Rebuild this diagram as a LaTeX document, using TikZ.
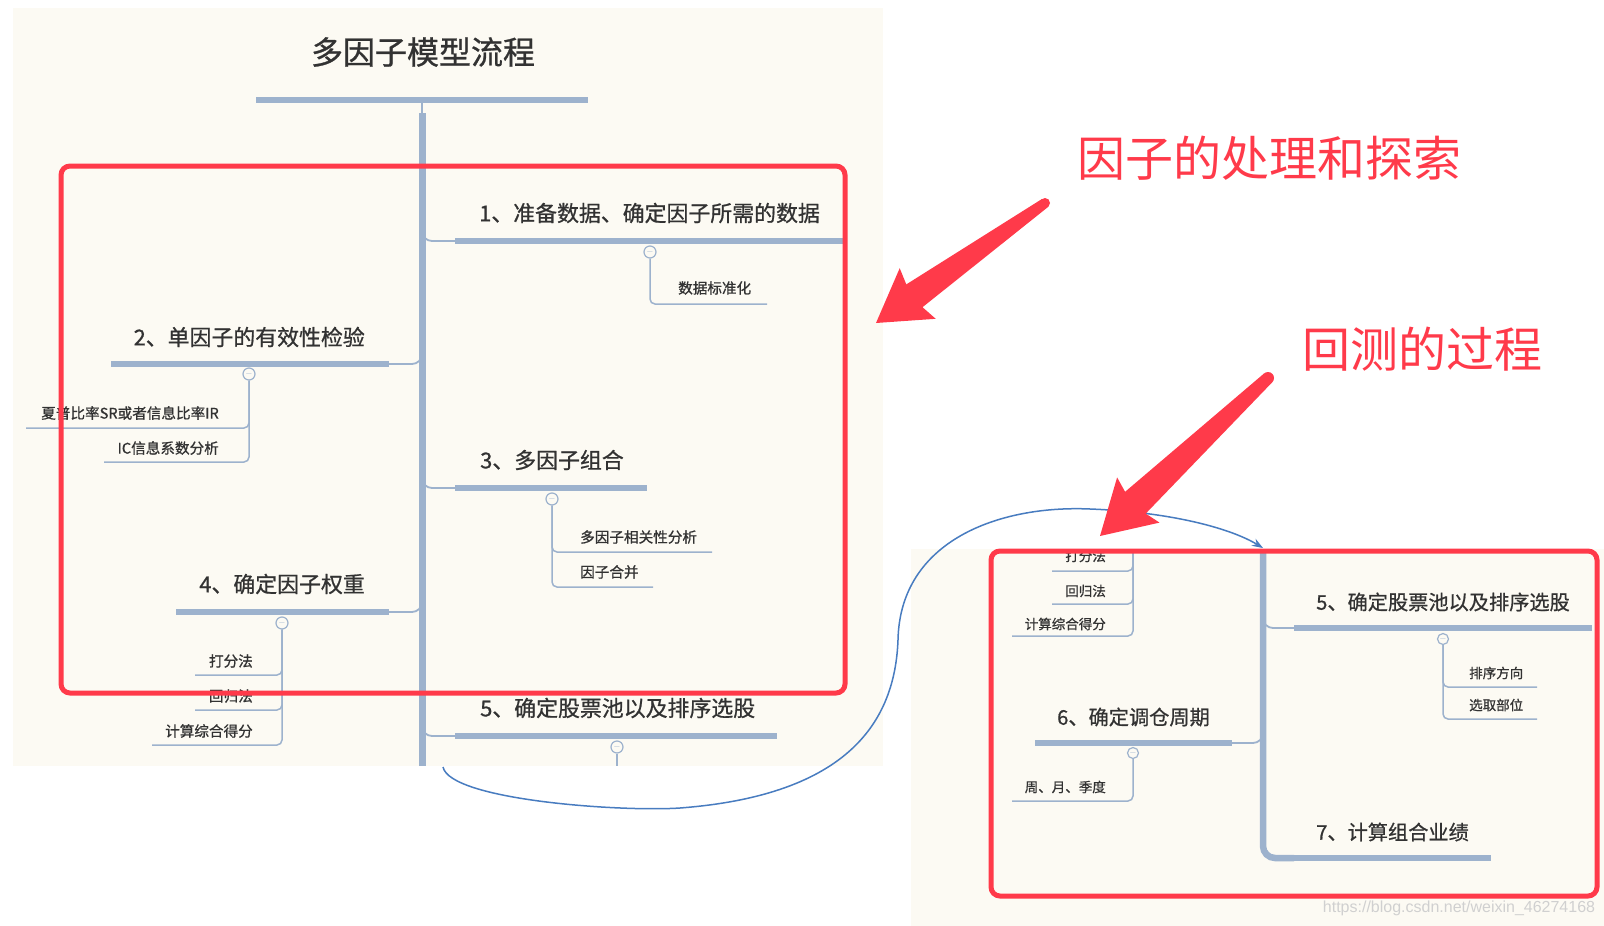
\documentclass[tikz,border=0pt]{standalone}
\usepackage{fontspec}
\usepackage{xcolor}
\usepackage{tikz}
\usetikzlibrary{arrows.meta}
\newfontfamily\cjk{Noto Sans CJK SC}
\newfontfamily\cjkmap[FakeBold=0.8]{Noto Sans CJK SC}
\newfontfamily\wmfont{Liberation Sans}
\definecolor{paper}{RGB}{252,250,243}
\definecolor{branch}{RGB}{157,178,205}
\definecolor{inktext}{RGB}{50,50,50}
\definecolor{hotred}{RGB}{255,58,74}
\definecolor{loopblue}{RGB}{72,124,192}
\definecolor{wmgray}{RGB}{208,208,208}
\newcommand{\fs}[1]{\fontsize{#1}{#1}\selectfont}

\begin{document}
\begin{tikzpicture}[x=1pt,y=-1pt,
    trunk/.style={draw=branch,line width=7pt},
    bar/.style={draw=branch,line width=5.5pt},
    conn/.style={draw=branch,line width=1.8pt,rounded corners=10pt},
    subline/.style={draw=branch,line width=1.5pt,rounded corners=5pt},
    fold/.style={circle,draw=branch,fill=paper,line width=1.2pt,minimum size=12pt,inner sep=0pt,text=branch,font=\fs{9}},
    topic/.style={inner sep=0pt,text=inktext,font=\cjkmap\fs{21.9}},
    subtopic/.style={inner sep=0pt,text=inktext,font=\cjkmap\fs{14.6}},
    rtopic/.style={inner sep=0pt,text=inktext,font=\cjkmap\fs{20.2}},
    rsubtopic/.style={inner sep=0pt,text=inktext,font=\cjkmap\fs{13.5}},
    redbox/.style={draw=hotred,line width=5pt,rounded corners=9pt},
    tag/.style={inner sep=0pt,text=hotred,font=\cjk\fs{48}}]

    \useasboundingbox[fill=white] (0,0) rectangle (1604,926);

    % draw panels
    \fill[paper] (13,8) rectangle (883,766);
    \fill[paper] (911,549) rectangle (1604,926);

    % left map: title and trunk
    \node[inner sep=0pt,text=inktext,font=\cjkmap\fs{32}] (title) at (423,52) {多因子模型流程};
    \draw[draw=branch,line width=6.5pt] (256,100) -- (588,100);
    \draw[conn] (422,100) -- (422,114);
    \draw[trunk] (422,113) -- (422,766);

    % branch 1
    \draw[conn] (422,225) |- (455,241);
    \draw[bar] (455,241) -- (847,241);
    \node[topic,anchor=west] (b1) at (479,213) {1、准备数据、确定因子所需的数据};
    \node[fold] (f1) at (650,252) {$-$};
    \draw[subline] (f1.south) |- (767,304);
    \node[subtopic,anchor=west] (s1) at (678,288) {数据标准化};

    % branch 2
    \draw[conn] (389,364) -| (422,345);
    \draw[bar] (111,364) -- (389,364);
    \node[topic,anchor=east] (b2) at (365,337) {2、单因子的有效性检验};
    \node[fold] (f2) at (249,374) {$-$};
    \draw[subline] (f2.south) |- (26,428);
    \draw[subline] (f2.south) |- (104,462);
    \node[subtopic,anchor=east] (s2a) at (219,413) {夏普比率SR或者信息比率IR};
    \node[subtopic,anchor=east] (s2b) at (219,448) {IC信息系数分析};

    % branch 3
    \draw[conn] (422,470) |- (455,488);
    \draw[bar] (455,488) -- (647,488);
    \node[topic,anchor=west] (b3) at (480,460) {3、多因子组合};
    \node[fold] (f3) at (552,499) {$-$};
    \draw[subline] (f3.south) |- (712,552);
    \draw[subline] (f3.south) |- (653,587);
    \node[subtopic,anchor=west] (s3a) at (580,537) {多因子相关性分析};
    \node[subtopic,anchor=west] (s3b) at (580,572) {因子合并};

    % branch 4
    \draw[conn] (389,612) -| (422,593);
    \draw[bar] (176,612) -- (389,612);
    \node[topic,anchor=east] (b4) at (365,584) {4、确定因子权重};
    \node[fold] (f4) at (282,623) {$-$};
    \draw[subline] (f4.south) |- (195,675);
    \draw[subline] (f4.south) |- (195,710);
    \draw[subline] (f4.south) |- (152,745);
    \node[subtopic,anchor=east] (s4a) at (253,661) {打分法};
    \node[subtopic,anchor=east] (s4b) at (253,696) {回归法};
    \node[subtopic,anchor=east] (s4c) at (253,731) {计算综合得分};

    % branch 5
    \draw[conn] (422,718) |- (455,736);
    \draw[bar] (455,736) -- (777,736);
    \node[topic,anchor=west] (b5) at (480,708) {5、确定股票池以及排序选股};
    \node[fold] (f5) at (617,747) {$-$};
    \draw[subline] (f5.south) -- (617,766);

    % right map (cut out)
    \begin{scope}
        \clip (911,549) rectangle (1604,926);
        \draw[trunk,line width=6.5pt,rounded corners=12pt] (1263,540) |- (1294,858);

        % rest of branch 4
        \draw[subline] (1133,530) |- (1052,571);
        \draw[subline] (1133,530) |- (1052,604);
        \draw[subline] (1133,530) |- (1012,636);
        \node[rsubtopic,anchor=east] (r4a) at (1106,556) {打分法};
        \node[rsubtopic,anchor=east] (r4b) at (1106,591) {回归法};
        \node[rsubtopic,anchor=east] (r4c) at (1106,624) {计算综合得分};

        % branch 5
        \draw[conn] (1263,610) |- (1294,628);
        \draw[bar] (1294,628) -- (1592,628);
        \node[rtopic,anchor=west] (r5) at (1316,602) {5、确定股票池以及排序选股};
        \node[fold,minimum size=11pt] (g5) at (1443,639) {$-$};
        \draw[subline] (g5.south) |- (1537,687);
        \draw[subline] (g5.south) |- (1537,719);
        \node[rsubtopic,anchor=west] (r5a) at (1469,673) {排序方向};
        \node[rsubtopic,anchor=west] (r5b) at (1469,705) {选取部位};

        % branch 6
        \draw[conn] (1232,743) -| (1263,725);
        \draw[bar] (1035,743) -- (1232,743);
        \node[rtopic,anchor=east] (r6) at (1210,717) {6、确定调仓周期};
        \node[fold,minimum size=11pt] (g6) at (1133,753) {$-$};
        \draw[subline] (g6.south) |- (1012,801);
        \node[rsubtopic,anchor=east] (r6a) at (1106,787) {周、月、季度};

        % branch 7
        \draw[bar] (1294,858) -- (1491,858);
        \node[rtopic,anchor=west] (r7) at (1316,832) {7、计算组合业绩};

        \node[font=\wmfont\fs{16},text=wmgray,inner sep=0pt] (wm) at (1459,908) {https://blog.csdn.net/weixin\_46274168};
    \end{scope}

    % red frames
    \draw[redbox] (61,166) rectangle (845,693);
    \draw[redbox] (991,551) rectangle (1597,896);

    % loop from step 5 back to the right map
    \coordinate (loopfrom) at (443,767);
    \coordinate (loopto) at (1263,548);
    \draw[loopblue,line width=1.5pt,-{Stealth[length=11pt,width=8pt]}] (loopfrom)
        .. controls (450,800) and (620,812) .. (680,808)
        .. controls (850,795) and (895,720) .. (898,640)
        .. controls (900,540) and (1000,505) .. (1090,509)
        .. controls (1170,512) and (1230,528) .. (loopto);

    % red pointers
    \fill[hotred] (1042.1,198.9) -- (906.3,284.4) -- (899.7,268.2) -- (876,323)
        -- (935.7,318.8) -- (922.5,307.2) -- (1047.9,207.1) -- cycle;
    \fill[hotred] (1045,203) circle (5pt);
    \fill[hotred] (1263.9,373.6) -- (1125.1,491.8) -- (1117.1,477.4) -- (1100,536)
        -- (1159.5,522.6) -- (1145.7,513.6) -- (1272.1,382.4) -- cycle;
    \fill[hotred] (1268,378) circle (6pt);

    \node[tag] (tagA) at (1269,158) {因子的处理和探索};
    \node[tag] (tagB) at (1422,349) {回测的过程};
\end{tikzpicture}
\end{document}
